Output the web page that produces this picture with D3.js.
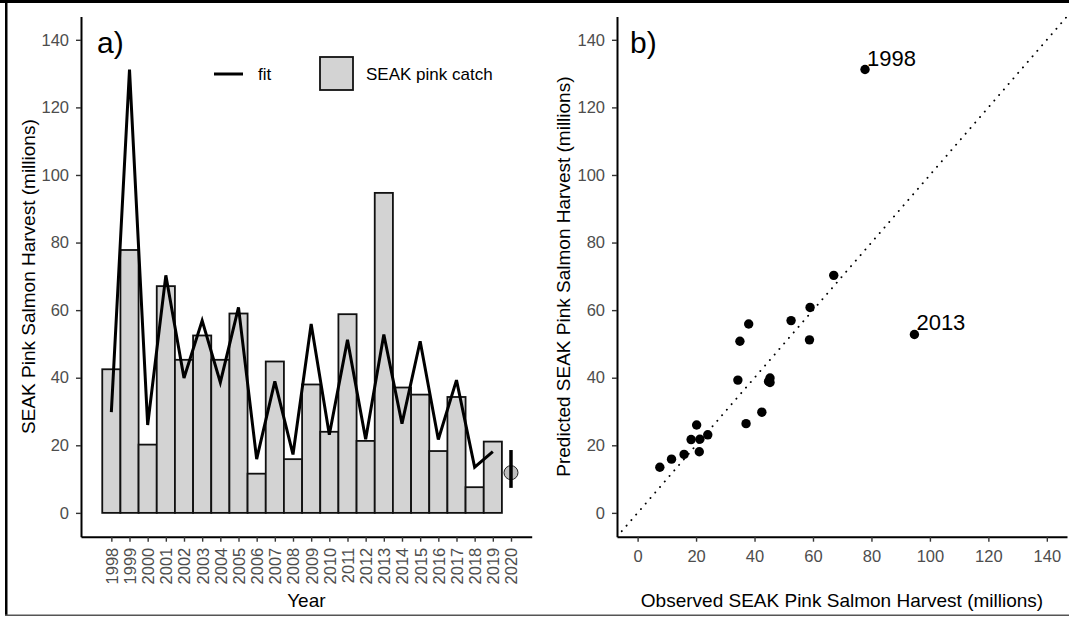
<!DOCTYPE html>
<html>
<head>
<meta charset="utf-8">
<script src="https://cdn.jsdelivr.net/npm/d3@7"></script>
<style>
    body { margin: 0; background: #fff; }
    svg { display: block; font-family: "Liberation Sans", Arial, sans-serif; }
</style>
</head>
<body>
<div id="draw"></div>
<script>
    // observed catch and model fit, 1998-2019 (millions)
    var years = [1998, 1999, 2000, 2001, 2002, 2003, 2004, 2005, 2006, 2007, 2008,
        2009, 2010, 2011, 2012, 2013, 2014, 2015, 2016, 2017, 2018, 2019];
    var observed = [42.5, 77.8, 20.2, 67.1, 45.3, 52.5, 45.3, 59.0, 11.6, 44.8, 15.9,
        38.0, 24.0, 58.8, 21.3, 94.7, 37.1, 35.0, 18.3, 34.3, 7.6, 21.1];
    var fitted = [29.8, 131.2, 26.0, 70.3, 39.9, 56.9, 38.6, 60.8, 15.9, 38.9, 17.3,
        55.9, 23.1, 51.2, 21.8, 52.8, 26.4, 50.8, 21.7, 39.3, 13.5, 18.1];

    // 2020 forecast with its range
    var forecastYear = 2020,
        forecastMid = 11.9,
        forecastLo = 7.4,
        forecastHi = 18.6;

    var yearTicks = d3.range(1998, 2021);
    var harvestTicks = [0, 20, 40, 60, 80, 100, 120, 140];

    // labelled points in panel b
    var labelAt = [1999, 2013];
    var labelText = ["1998", "2013"];

    var W = 1069, H = 617;
    var svg = d3.select('#draw').append('svg').attr('width', W).attr('height', H);

    svg.append('rect').attr('width', W).attr('height', H).attr('fill', '#fff');

    var tickCol = '#4d4d4d',
        tickFont = '16.5px',
        titleFont = '19px';

    function styleAxis(g) {
        g.attr('font-size', null).attr('font-family', null);
        g.select('.domain').attr('stroke', '#000').attr('stroke-width', 2);
        g.selectAll('.tick line').attr('stroke', '#333').attr('stroke-width', 1.4);
        g.selectAll('.tick text').attr('fill', tickCol).style('font-size', tickFont);
    }

    // ---------- panel a ----------
    var xa = d3.scaleLinear().domain([1996.33, 2021.14]).range([81, 531.7]);
    var ya = d3.scaleLinear().domain([-7.05, 146.9]).range([536.7, 16.5]);
    var step = xa(1999) - xa(1998);

    var pa = svg.append('g');

    pa.selectAll('rect.bar')
        .data(years)
        .enter().append('rect')
        .attr('class', 'bar')
        .attr('x', function (d) { return xa(d) - step / 2; })
        .attr('width', step)
        .attr('y', function (d, i) { return ya(observed[i]); })
        .attr('height', function (d, i) { return ya(0) - ya(observed[i]); })
        .attr('fill', '#d3d3d3')
        .attr('stroke', '#111')
        .attr('stroke-width', 1.8);

    var fitLine = d3.line()
        .x(function (d) { return xa(d); })
        .y(function (d, i) { return ya(fitted[i]); });

    pa.append('path')
        .datum(years)
        .attr('d', fitLine)
        .attr('fill', 'none')
        .attr('stroke', '#000')
        .attr('stroke-width', 3)
        .attr('stroke-linejoin', 'miter');

    pa.append('circle')
        .attr('cx', xa(forecastYear))
        .attr('cy', ya(forecastMid))
        .attr('r', 7)
        .attr('fill', '#bdbdbd')
        .attr('stroke', '#222')
        .attr('stroke-width', 1);

    pa.append('line')
        .attr('x1', xa(forecastYear)).attr('x2', xa(forecastYear))
        .attr('y1', ya(forecastHi)).attr('y2', ya(forecastLo))
        .attr('stroke', '#000')
        .attr('stroke-width', 3.5);

    var axA = pa.append('g')
        .attr('transform', 'translate(' + xa.range()[0] + ',0)')
        .call(d3.axisLeft(ya).tickValues(harvestTicks).tickSize(5).tickSizeOuter(0).tickPadding(7));
    styleAxis(axA);

    var axAx = pa.append('g')
        .attr('transform', 'translate(0,' + ya.range()[0] + ')')
        .call(d3.axisBottom(xa).tickValues(yearTicks).tickFormat(d3.format('d'))
            .tickSize(5).tickSizeOuter(0).tickPadding(3));
    styleAxis(axAx);
    axAx.selectAll('.tick text')
        .attr('transform', 'rotate(-90)')
        .attr('text-anchor', 'end')
        .attr('x', -11)
        .attr('y', 0)
        .attr('dy', '0.36em');

    pa.append('text')
        .attr('x', (xa.range()[0] + xa.range()[1]) / 2)
        .attr('y', 607)
        .attr('text-anchor', 'middle')
        .style('font-size', titleFont)
        .text('Year');

    pa.append('text')
        .attr('transform', 'translate(35,' + (ya.range()[0] + ya.range()[1]) / 2 + ') rotate(-90)')
        .attr('text-anchor', 'middle')
        .style('font-size', titleFont)
        .text('SEAK Pink Salmon Harvest (millions)');

    pa.append('text')
        .attr('x', 97).attr('y', 53)
        .style('font-size', '30px')
        .text('a)');

    // legend
    pa.append('line')
        .attr('x1', 214).attr('x2', 243).attr('y1', 74).attr('y2', 74)
        .attr('stroke', '#000').attr('stroke-width', 3);
    pa.append('text')
        .attr('x', 258).attr('y', 80)
        .style('font-size', '17px')
        .text('fit');
    pa.append('rect')
        .attr('x', 320).attr('y', 57).attr('width', 33).attr('height', 33)
        .attr('fill', '#d3d3d3').attr('stroke', '#111').attr('stroke-width', 1.8);
    pa.append('text')
        .attr('x', 366).attr('y', 80)
        .style('font-size', '17px')
        .text('SEAK pink catch');

    // ---------- panel b ----------
    var xb = d3.scaleLinear().domain([-7.05, 146.9]).range([617, 1067]);
    var yb = d3.scaleLinear().domain([-7.05, 146.9]).range([536.7, 16.5]);

    var pb = svg.append('g');

    pb.append('clipPath').attr('id', 'clipb')
        .append('rect')
        .attr('x', xb.range()[0]).attr('y', yb.range()[1])
        .attr('width', xb.range()[1] - xb.range()[0])
        .attr('height', yb.range()[0] - yb.range()[1]);

    // 1:1 reference line
    pb.append('line')
        .attr('clip-path', 'url(#clipb)')
        .attr('x1', xb(-7.05)).attr('y1', yb(-7.05))
        .attr('x2', xb(146.9)).attr('y2', yb(146.9))
        .attr('stroke', '#000')
        .attr('stroke-width', 1.9)
        .attr('stroke-linecap', 'round')
        .attr('stroke-dasharray', '0.1,7.2');

    pb.selectAll('circle.pt')
        .data(years)
        .enter().append('circle')
        .attr('class', 'pt')
        .attr('cx', function (d, i) { return xb(observed[i]); })
        .attr('cy', function (d, i) { return yb(fitted[i]); })
        .attr('r', 4.7)
        .attr('fill', '#000');

    pb.selectAll('text.lab')
        .data(labelAt)
        .enter().append('text')
        .attr('class', 'lab')
        .attr('x', function (d) { return xb(observed[years.indexOf(d)]) + 2; })
        .attr('y', function (d) { return yb(fitted[years.indexOf(d)]) - 4; })
        .style('font-size', '22px')
        .text(function (d, i) { return labelText[i]; });

    var axB = pb.append('g')
        .attr('transform', 'translate(' + xb.range()[0] + ',0)')
        .call(d3.axisLeft(yb).tickValues(harvestTicks).tickSize(5).tickSizeOuter(0).tickPadding(7));
    styleAxis(axB);

    var axBx = pb.append('g')
        .attr('transform', 'translate(0,' + yb.range()[0] + ')')
        .call(d3.axisBottom(xb).tickValues(harvestTicks).tickSize(5).tickSizeOuter(0).tickPadding(9));
    styleAxis(axBx);

    pb.append('text')
        .attr('x', (xb.range()[0] + xb.range()[1]) / 2)
        .attr('y', 607)
        .attr('text-anchor', 'middle')
        .style('font-size', titleFont)
        .text('Observed SEAK Pink Salmon Harvest (millions)');

    pb.append('text')
        .attr('transform', 'translate(570,' + (yb.range()[0] + yb.range()[1]) / 2 + ') rotate(-90)')
        .attr('text-anchor', 'middle')
        .style('font-size', titleFont)
        .text('Predicted SEAK Pink Salmon Harvest (millions)');

    pb.append('text')
        .attr('x', 630).attr('y', 53)
        .style('font-size', '30px')
        .text('b)');

    // frame around the figure (top, left, bottom only)
    svg.append('rect').attr('x', 0).attr('y', 0).attr('width', W).attr('height', 3).attr('fill', '#000');
    svg.append('rect').attr('x', 5).attr('y', 0).attr('width', 2.5).attr('height', 616).attr('fill', '#000');
    svg.append('rect').attr('x', 5).attr('y', 614.5).attr('width', W - 5).attr('height', 1.5).attr('fill', '#555');
</script>
</body>
</html>
